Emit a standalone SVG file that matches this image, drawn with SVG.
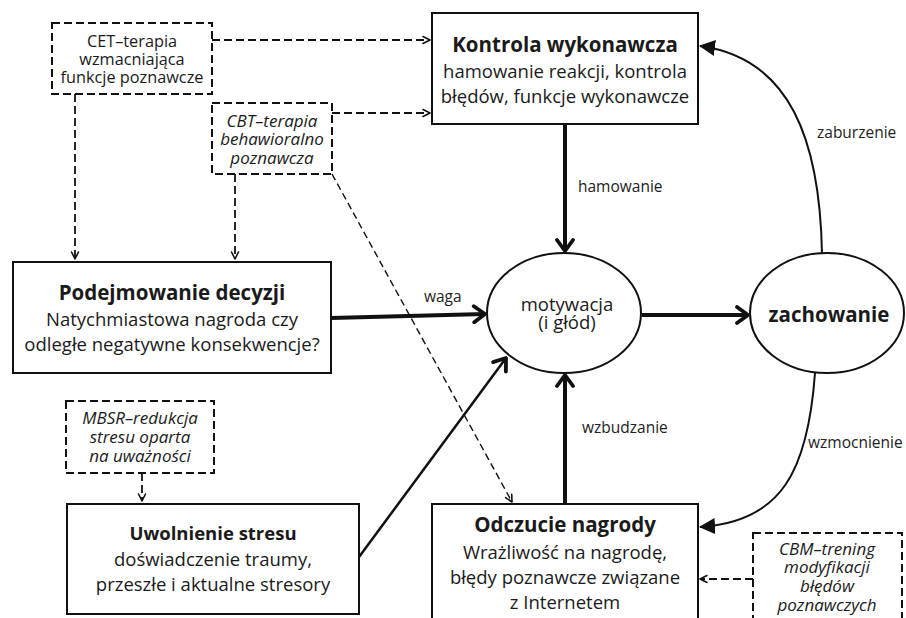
<svg xmlns="http://www.w3.org/2000/svg" width="906" height="618" viewBox="0 0 906 618">
  <style>
    .box { fill: #ffffff; stroke: #111111; stroke-width: 2; }
    .dbox { fill: #ffffff; stroke: #111111; stroke-width: 2; stroke-dasharray: 8 4; }
    .ell { fill: #ffffff; stroke: #111111; stroke-width: 2; }
    .t { font-family: "Open Sans", "Liberation Sans", sans-serif; fill: #1a1a1a; text-anchor: middle; }
    .title { font-size: 20.5px; font-weight: 700; }
    .body { font-size: 18.5px; }
    .small { font-size: 16.3px; }
    .it { font-size: 17px; font-style: italic; }
    .lbl { font-family: "Open Sans", "Liberation Sans", sans-serif; font-size: 15.5px; fill: #222222; }
    .thick { fill: none; stroke: #111111; stroke-width: 4; }
    .mid { fill: none; stroke: #111111; stroke-width: 2.5; }
    .curve { fill: none; stroke: #111111; stroke-width: 2; }
    .dash { fill: none; stroke: #111111; stroke-width: 1.8; stroke-dasharray: 8 4; }
    .dashfine { fill: none; stroke: #111111; stroke-width: 1.4; stroke-dasharray: 7 4; }
  </style>
  <defs>
    <marker id="chevBig" markerUnits="userSpaceOnUse" viewBox="0 0 16 20" markerWidth="16" markerHeight="20" refX="14" refY="10" orient="auto">
      <path d="M3,2 L14,10 L3,18" fill="none" stroke="#111111" stroke-width="3.8" stroke-linecap="round" stroke-linejoin="round"/>
    </marker>
    <marker id="chevSmall" markerUnits="userSpaceOnUse" viewBox="0 0 10 10" markerWidth="10" markerHeight="10" refX="9" refY="5" orient="auto">
      <path d="M2,1.5 L9,5 L2,8.5" fill="none" stroke="#111111" stroke-width="1.6" stroke-linecap="round" stroke-linejoin="round"/>
    </marker>
    <marker id="tri" markerUnits="userSpaceOnUse" viewBox="0 0 16 16" markerWidth="16" markerHeight="16" refX="15" refY="8" orient="auto">
      <path d="M0,0 L16,8 L0,16 Z" fill="#111111"/>
    </marker>
  </defs>

  <g id="connectors">
    <!-- therapies -->
    <path class="dash" d="M212,40 L430,40" marker-end="url(#chevSmall)"/>
    <path class="dash" d="M332,113 L430,113" marker-end="url(#chevSmall)"/>
    <path class="dash" d="M75,94 L75,259" marker-end="url(#chevSmall)"/>
    <path class="dash" d="M235,174 L235,259" marker-end="url(#chevSmall)"/>
    <path class="dashfine" d="M332,174 L512,502" marker-end="url(#chevSmall)"/>
    <path class="dash" d="M142,473 L142,501" marker-end="url(#chevSmall)"/>
    <path class="dash" d="M753,579 L700,579" marker-end="url(#chevSmall)"/>
    <!-- main pathway -->
    <path class="thick" d="M331,318 L485,314" marker-end="url(#chevBig)"/>
    <path class="thick" d="M642,315 L748,315" marker-end="url(#chevBig)"/>
    <path class="thick" d="M565,124 L565,251" marker-end="url(#chevBig)"/>
    <path class="thick" d="M565,503 L565,375" marker-end="url(#chevBig)"/>
    <path class="mid" d="M359,557 L506,358" marker-end="url(#chevBig)"/>
    <!-- feedback loops -->
    <path class="curve" d="M822,254 C820,140 790,58 700,46" marker-end="url(#tri)"/>
    <path class="curve" d="M815,373 C808,470 782,522 700,527" marker-end="url(#tri)"/>
    <!-- labels -->
    <text class="lbl" x="424" y="302">waga</text>
    <text class="lbl" x="578" y="192">hamowanie</text>
    <text class="lbl" x="817" y="138">zaburzenie</text>
    <text class="lbl" x="582" y="433">wzbudzanie</text>
    <text class="lbl" x="808" y="448">wzmocnienie</text>
  </g>

  <g id="cet">
    <rect class="dbox" x="52" y="23" width="160" height="71"/>
    <text class="t small" x="132" y="47">CET–terapia</text>
    <text class="t small" x="132" y="65">wzmacniająca</text>
    <text class="t small" x="132" y="83">funkcje poznawcze</text>
  </g>

  <g id="cbt">
    <rect class="dbox" x="212" y="103" width="120" height="71"/>
    <text class="t it" x="272" y="127">CBT–terapia</text>
    <text class="t it" x="272" y="145">behawioralno</text>
    <text class="t it" x="272" y="164">poznawcza</text>
  </g>

  <g id="kontrola">
    <rect class="box" x="432" y="13" width="266" height="111"/>
    <text class="t title" x="565" y="52">Kontrola wykonawcza</text>
    <text class="t body" x="565" y="78">hamowanie reakcji, kontrola</text>
    <text class="t body" x="565" y="103">błędów, funkcje wykonawcze</text>
  </g>

  <g id="decyzje">
    <rect class="box" x="13" y="262" width="318" height="111"/>
    <text class="t title" x="172" y="300">Podejmowanie decyzji</text>
    <text class="t body" x="172" y="326">Natychmiastowa nagroda czy</text>
    <text class="t body" x="172" y="351">odległe negatywne konsekwencje?</text>
  </g>

  <g id="motywacja">
    <ellipse class="ell" cx="564" cy="313" rx="77" ry="60"/>
    <text class="t" style="font-size:18.5px" x="567" y="311">motywacja</text>
    <text class="t" style="font-size:18.5px" x="567" y="329">(i głód)</text>
  </g>

  <g id="zachowanie">
    <ellipse class="ell" cx="827" cy="313" rx="77" ry="60"/>
    <text class="t" style="font-size:20.5px;font-weight:700" x="829" y="322">zachowanie</text>
  </g>

  <g id="mbsr">
    <rect class="dbox" x="66" y="401" width="148" height="72"/>
    <text class="t it" x="140" y="424">MBSR–redukcja</text>
    <text class="t it" x="140" y="443">stresu oparta</text>
    <text class="t it" x="140" y="462">na uważności</text>
  </g>

  <g id="stres">
    <rect class="box" x="67" y="504" width="292" height="110"/>
    <text class="t" style="font-size:18.5px;font-weight:700" x="213" y="540">Uwolnienie stresu</text>
    <text class="t body" x="213" y="566">doświadczenie traumy,</text>
    <text class="t body" x="213" y="591">przeszłe i aktualne stresory</text>
  </g>

  <g id="nagroda">
    <rect class="box" x="432" y="504" width="266" height="130"/>
    <text class="t title" x="565" y="532">Odczucie nagrody</text>
    <text class="t body" x="565" y="559">Wrażliwość na nagrodę,</text>
    <text class="t body" x="565" y="584">błędy poznawcze związane</text>
    <text class="t body" x="565" y="609">z Internetem</text>
  </g>

  <g id="cbm">
    <rect class="dbox" x="753" y="533" width="149" height="100"/>
    <text class="t it" x="827" y="555">CBM–trening</text>
    <text class="t it" x="827" y="573">modyfikacji</text>
    <text class="t it" x="827" y="592">błędów</text>
    <text class="t it" x="827" y="611">poznawczych</text>
  </g>
</svg>
